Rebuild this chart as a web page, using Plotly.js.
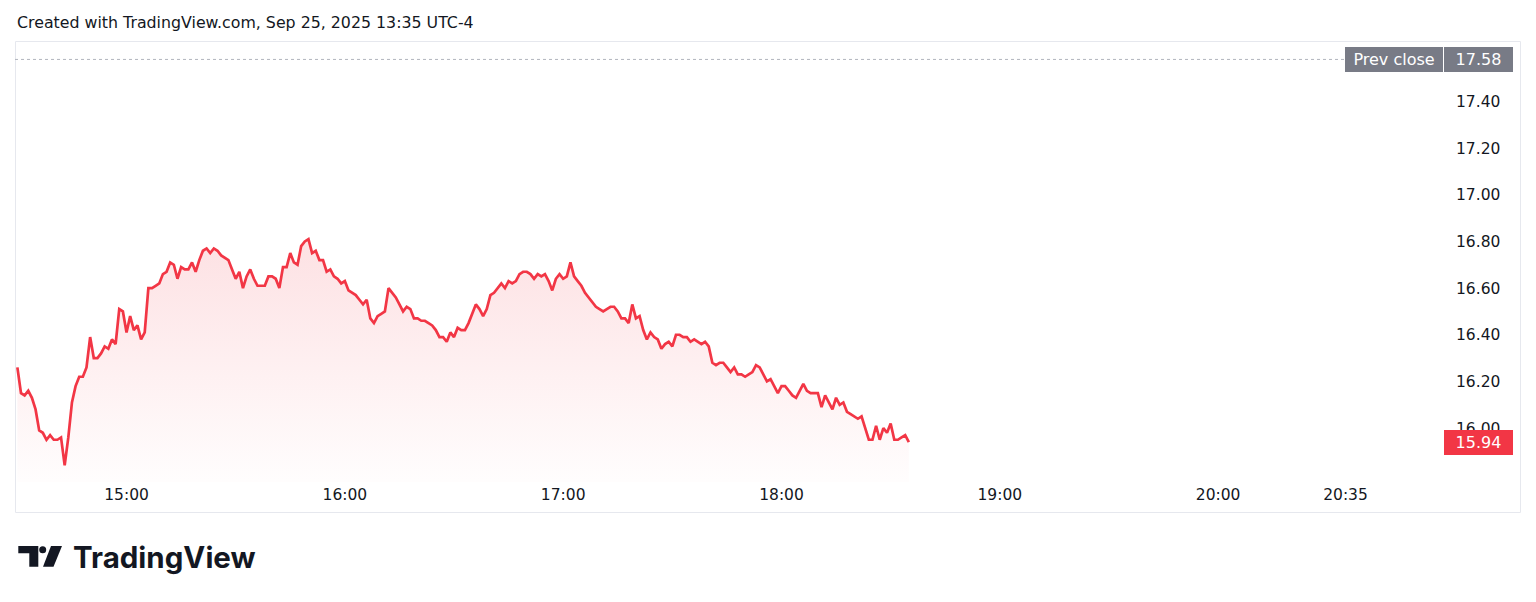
<!DOCTYPE html>
<html>
<head>
<meta charset="utf-8">
<script src="https://cdn.plot.ly/plotly-3.0.1.min.js"></script>
<style>html,body{margin:0;padding:0;background:#fff;}#chart{width:1536px;height:602px;}</style>
</head>
<body>
<div id="chart"></div>
<script>
var tradeDate = '2025-09-25';
var times = [
'14:30','14:31','14:32','14:33','14:34','14:35','14:36','14:37','14:38','14:39',
'14:40','14:41','14:42','14:43','14:44','14:45','14:46','14:47','14:48','14:49',
'14:50','14:51','14:52','14:53','14:54','14:55','14:56','14:57','14:58','14:59',
'15:00','15:01','15:02','15:03','15:04','15:05','15:06','15:07','15:08','15:09',
'15:10','15:11','15:12','15:13','15:14','15:15','15:16','15:17','15:18','15:19',
'15:20','15:21','15:22','15:23','15:24','15:25','15:26','15:27','15:28','15:29',
'15:30','15:31','15:32','15:33','15:34','15:35','15:36','15:37','15:38','15:39',
'15:40','15:41','15:42','15:43','15:44','15:45','15:46','15:47','15:48','15:49',
'15:50','15:51','15:52','15:53','15:54','15:55','15:56','15:57','15:58','15:59',
'16:00','16:01','16:02','16:03','16:04','16:05','16:06','16:07','16:08','16:09',
'16:10','16:11','16:12','16:13','16:14','16:15','16:16','16:17','16:18','16:19',
'16:20','16:21','16:22','16:23','16:24','16:25','16:26','16:27','16:28','16:29',
'16:30','16:31','16:32','16:33','16:34','16:35','16:36','16:37','16:38','16:39',
'16:40','16:41','16:42','16:43','16:44','16:45','16:46','16:47','16:48','16:49',
'16:50','16:51','16:52','16:53','16:54','16:55','16:56','16:57','16:58','16:59',
'17:00','17:01','17:02','17:03','17:04','17:05','17:06','17:07','17:08','17:09',
'17:10','17:11','17:12','17:13','17:14','17:15','17:16','17:17','17:18','17:19',
'17:20','17:21','17:22','17:23','17:24','17:25','17:26','17:27','17:28','17:29',
'17:30','17:31','17:32','17:33','17:34','17:35','17:36','17:37','17:38','17:39',
'17:40','17:41','17:42','17:43','17:44','17:45','17:46','17:47','17:48','17:49',
'17:50','17:51','17:52','17:53','17:54','17:55','17:56','17:57','17:58','17:59',
'18:00','18:01','18:02','18:03','18:04','18:05','18:06','18:07','18:08','18:09',
'18:10','18:11','18:12','18:13','18:14','18:15','18:16','18:17','18:18','18:19',
'18:20','18:21','18:22','18:23','18:24','18:25','18:26','18:27','18:28','18:29',
'18:30','18:31','18:32','18:33','18:34','18:35'
];
var prices = [
16.26,16.15,16.14,16.16,16.13,16.08,15.99,15.98,15.95,15.97,
15.95,15.95,15.96,15.84,15.96,16.11,16.18,16.22,16.22,16.26,
16.39,16.30,16.30,16.32,16.35,16.34,16.38,16.36,16.51,16.50,
16.41,16.48,16.42,16.44,16.38,16.41,16.60,16.60,16.61,16.62,
16.66,16.67,16.71,16.70,16.64,16.69,16.68,16.68,16.71,16.67,
16.72,16.76,16.77,16.75,16.77,16.76,16.74,16.73,16.72,16.68,
16.64,16.67,16.60,16.65,16.68,16.64,16.61,16.61,16.61,16.65,
16.65,16.64,16.60,16.69,16.69,16.75,16.71,16.70,16.78,16.80,
16.81,16.75,16.76,16.72,16.72,16.67,16.68,16.65,16.64,16.62,
16.63,16.59,16.58,16.57,16.55,16.53,16.55,16.47,16.45,16.48,
16.49,16.50,16.60,16.58,16.56,16.53,16.50,16.52,16.51,16.47,
16.47,16.46,16.46,16.45,16.44,16.42,16.39,16.39,16.37,16.41,
16.39,16.43,16.42,16.42,16.45,16.49,16.53,16.51,16.48,16.51,
16.57,16.58,16.60,16.62,16.60,16.63,16.62,16.63,16.66,16.67,
16.67,16.66,16.64,16.66,16.65,16.66,16.63,16.59,16.64,16.66,
16.64,16.65,16.71,16.65,16.63,16.61,16.58,16.56,16.54,16.52,
16.51,16.50,16.51,16.52,16.52,16.50,16.47,16.47,16.45,16.53,
16.47,16.48,16.42,16.38,16.41,16.39,16.38,16.34,16.36,16.37,
16.35,16.40,16.40,16.39,16.39,16.37,16.38,16.37,16.36,16.37,
16.35,16.28,16.27,16.28,16.28,16.26,16.24,16.26,16.23,16.23,
16.22,16.23,16.24,16.27,16.26,16.23,16.20,16.21,16.18,16.15,
16.18,16.18,16.16,16.14,16.13,16.16,16.19,16.16,16.15,16.15,
16.15,16.09,16.14,16.11,16.08,16.13,16.10,16.11,16.07,16.06,
16.05,16.04,16.05,16.00,15.95,15.95,16.01,15.95,16.00,15.98,
16.02,15.95,15.95,15.96,15.97,15.94
];
var prevClose = 17.58;
var lastPrice = 15.94;
var priceTicks = [16.00, 16.20, 16.40, 16.60, 16.80, 17.00, 17.20, 17.40];
var priceTickLabels = ['16.00','16.20','16.40','16.60','16.80','17.00','17.20','17.40'];
var timeTicks = ['15:00','16:00','17:00','18:00','19:00','20:00','20:35'];
var timeTickLabels = ['15:00','16:00','17:00','18:00','19:00','20:00','20:35'];
var headerText = 'Created with TradingView.com, Sep 25, 2025 13:35 UTC-4';
var brandText = 'TradingView';

var RED = '#f23645';
var TXT = '#131722';
var FONT = 'DejaVu Sans, Verdana, sans-serif';

var xs = times.map(function(t){ return tradeDate + ' ' + t; });

var trace = {
  type: 'scatter', mode: 'lines',
  x: xs, y: prices,
  line: {color: RED, width: 2.7, shape: 'linear'},
  fill: 'tozeroy',
  fillgradient: {
    type: 'vertical',
    start: 15.77, stop: 16.81,
    colorscale: [[0, 'rgba(242,54,69,0.01)'], [1, 'rgba(242,54,69,0.15)']]
  },
  hoverinfo: 'skip'
};

var L = 15, R = 1443, T = 41, B = 482;
function px(x){ return (x - L) / (R - L); }
function py(y){ return (B - y) / (B - T); }
function pt(x, y){ return px(x).toFixed(5) + ',' + py(y).toFixed(5); }

var layout = {
  width: 1536, height: 602,
  margin: {l: L, r: 1536 - R, t: T, b: 602 - B, pad: 0},
  paper_bgcolor: '#ffffff', plot_bgcolor: '#ffffff',
  showlegend: false, hovermode: false,
  font: {family: FONT, color: TXT, size: 15},
  xaxis: {
    type: 'date',
    range: [tradeDate + ' 14:29:21', tradeDate + ' 21:01:48'],
    tickvals: timeTicks.map(function(t){ return tradeDate + ' ' + t; }),
    ticktext: timeTickLabels,
    showgrid: false, zeroline: false, showline: false,
    ticks: '', ticklabelstandoff: 1,
    tickfont: {family: FONT, size: 15.5, color: TXT}
  },
  yaxis: {
    side: 'right',
    range: [15.769, 17.659],
    tickvals: priceTicks, ticktext: priceTickLabels,
    showgrid: false, zeroline: false, showline: false,
    ticks: '', ticklabelstandoff: 12,
    tickfont: {family: FONT, size: 15.5, color: TXT}
  },
  shapes: [
    {type: 'rect', xref: 'paper', yref: 'paper', x0: px(15.5), x1: px(1520.5), y0: py(512.5), y1: py(41.5),
     line: {color: '#e6e8ee', width: 1}, fillcolor: 'rgba(0,0,0,0)', layer: 'below'},
    {type: 'line', xref: 'paper', yref: 'y', x0: 0, x1: px(1345), y0: prevClose, y1: prevClose,
     line: {color: '#b2b5be', width: 1, dash: 'dot'}},
    {type: 'path', xref: 'paper', yref: 'paper', fillcolor: TXT, line: {width: 0},
     path: 'M' + pt(18.3,546) + ' L' + pt(38.3,546) + ' L' + pt(38.3,566.7) + ' L' + pt(29.3,566.7) +
           ' L' + pt(29.3,553.3) + ' L' + pt(18.3,553.3) + ' Z'},
    {type: 'circle', xref: 'paper', yref: 'paper', fillcolor: TXT, line: {width: 0},
     x0: px(39.2), x1: px(46.2), y0: py(553.3), y1: py(546.3)},
    {type: 'path', xref: 'paper', yref: 'paper', fillcolor: TXT, line: {width: 0},
     path: 'M' + pt(51,546) + ' L' + pt(62,546) + ' L' + pt(53.5,566.7) + ' L' + pt(43,566.7) + ' Z'}
  ],
  annotations: [
    {text: headerText, xref: 'paper', yref: 'paper', x: px(15), y: py(22), xanchor: 'left', yanchor: 'middle',
     showarrow: false, font: {family: FONT, size: 15.8, color: TXT}},
    {text: '<b>' + brandText + '</b>', xref: 'paper', yref: 'paper', x: px(71), y: py(557), xanchor: 'left', yanchor: 'middle',
     showarrow: false, font: {family: 'Inter, Roboto, sans-serif', size: 29.5, color: TXT}},
    {text: 'Prev close', xref: 'paper', yref: 'y', x: px(1345), y: prevClose, xanchor: 'left', yanchor: 'middle',
     showarrow: false, width: 98, height: 25, bgcolor: '#787b86', borderpad: 0, borderwidth: 0, align: 'center',
     font: {family: FONT, size: 16, color: '#ffffff'}},
    {text: prevClose.toFixed(2), xref: 'paper', yref: 'y', x: px(1444), y: prevClose, xanchor: 'left', yanchor: 'middle',
     showarrow: false, width: 69, height: 25, bgcolor: '#787b86', borderpad: 0, borderwidth: 0, align: 'center',
     font: {family: FONT, size: 16, color: '#ffffff'}},
    {text: lastPrice.toFixed(2), xref: 'paper', yref: 'y', x: px(1444), y: lastPrice, xanchor: 'left', yanchor: 'middle',
     showarrow: false, width: 69, height: 25, bgcolor: RED, borderpad: 0, borderwidth: 0, align: 'center',
     font: {family: FONT, size: 16, color: '#ffffff'}}
  ]
};

Plotly.newPlot('chart', [trace], layout, {staticPlot: true, displayModeBar: false});
</script>
</body>
</html>
